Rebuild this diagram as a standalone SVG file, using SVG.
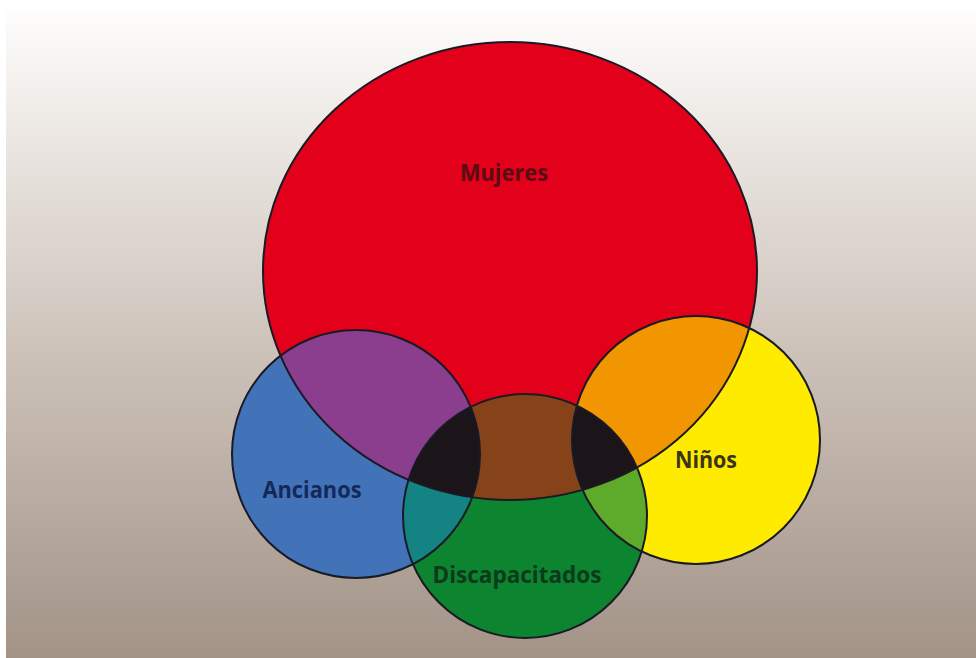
<svg xmlns="http://www.w3.org/2000/svg" width="976" height="658" viewBox="0 0 976 658">
<defs>
<linearGradient id="bg" x1="0" y1="10" x2="0" y2="658" gradientUnits="userSpaceOnUse">
<stop offset="0" stop-color="#fefdfc"/>
<stop offset="0.17" stop-color="#eeeae6"/>
<stop offset="0.5" stop-color="#cfc5bd"/>
<stop offset="1" stop-color="#a39387"/>
</linearGradient>
<clipPath id="cRed"><ellipse cx="510" cy="271" rx="247" ry="229"/></clipPath>
<clipPath id="cBlue"><circle cx="356" cy="454" r="124"/></clipPath>
<clipPath id="cYellow"><circle cx="696" cy="440" r="124"/></clipPath>
<clipPath id="cGreen"><circle cx="525" cy="516" r="122"/></clipPath>
<style>
.edge{fill:none;stroke:#1a1a24;stroke-width:2}
.lbl{font-family:"Open Sans","Liberation Sans",sans-serif;font-weight:700;font-size:24px;text-anchor:middle}
</style>
</defs>
<rect x="0" y="0" width="976" height="658" fill="#ffffff"/>
<rect x="6" y="10" width="970" height="648" fill="url(#bg)"/>

<g id="fills">
<ellipse cx="510" cy="271" rx="247" ry="229" fill="#e2001a"/>
<circle cx="356" cy="454" r="124" fill="#4273b8"/>
<circle cx="696" cy="440" r="124" fill="#ffeb00"/>
<circle cx="525" cy="516" r="122" fill="#0d842f"/>
</g>

<g id="overlaps">
<circle cx="356" cy="454" r="124" fill="#8b3d8e" clip-path="url(#cRed)"/>
<circle cx="696" cy="440" r="124" fill="#f19600" clip-path="url(#cRed)"/>
<circle cx="525" cy="516" r="122" fill="#86431a" clip-path="url(#cRed)"/>
<circle cx="525" cy="516" r="122" fill="#138383" clip-path="url(#cBlue)"/>
<circle cx="525" cy="516" r="122" fill="#5eab2c" clip-path="url(#cYellow)"/>
<g clip-path="url(#cRed)"><circle cx="525" cy="516" r="122" fill="#1b151a" clip-path="url(#cBlue)"/></g>
<g clip-path="url(#cRed)"><circle cx="525" cy="516" r="122" fill="#1b151a" clip-path="url(#cYellow)"/></g>
</g>

<g id="mujeres">
<ellipse class="edge" cx="510" cy="271" rx="247" ry="229"/>
<text class="lbl" x="504" y="181" fill="#5a0c12" textLength="88" lengthAdjust="spacingAndGlyphs">Mujeres</text>
</g>
<g id="ancianos">
<circle class="edge" cx="356" cy="454" r="124"/>
<text class="lbl" x="312" y="498" fill="#13295a" textLength="99" lengthAdjust="spacingAndGlyphs">Ancianos</text>
</g>
<g id="ninos">
<circle class="edge" cx="696" cy="440" r="124"/>
<text class="lbl" x="706" y="468" fill="#3a3418" textLength="62" lengthAdjust="spacingAndGlyphs">Niños</text>
</g>
<g id="discapacitados">
<circle class="edge" cx="525" cy="516" r="122"/>
<text class="lbl" x="517" y="583" fill="#0b3a1c" textLength="169" lengthAdjust="spacingAndGlyphs">Discapacitados</text>
</g>
<g id="connectors"/>
</svg>
